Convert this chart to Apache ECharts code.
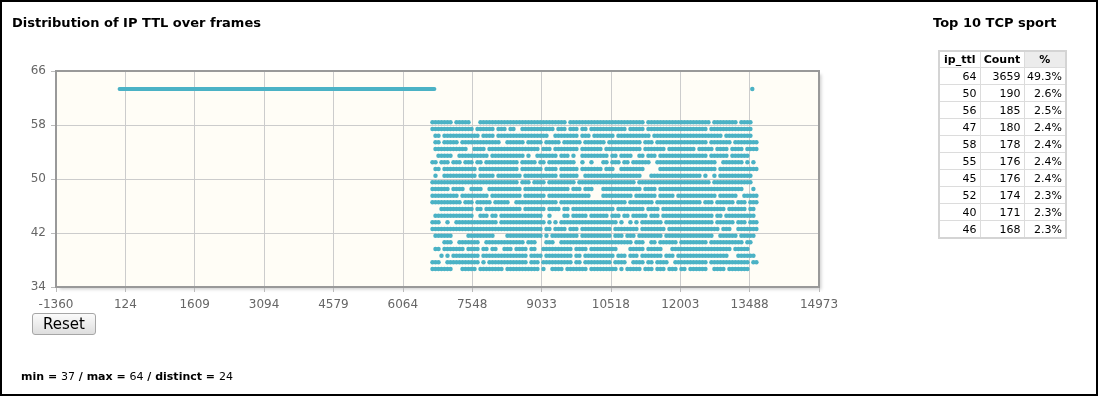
<!DOCTYPE html>
<html>
<head>
<meta charset="utf-8">
<script src="https://cdn.jsdelivr.net/npm/echarts@6/dist/echarts.min.js"></script>
<style>
  html, body { margin: 0; padding: 0; background: #fff; }
  body { width: 1098px; height: 396px; position: relative; overflow: hidden; font-family: "DejaVu Sans", sans-serif; }
  #chart { position: absolute; left: 0; top: 0; width: 1098px; height: 396px; }
  #frame { position: absolute; left: 0; top: 0; width: 1098px; height: 396px; box-sizing: border-box; border: 2px solid #000; pointer-events: none; }
  #tblTitle { position: absolute; left: 933px; top: 15px; font-size: 13px; line-height: 15px; font-weight: bold; color: #000; white-space: nowrap; }
  #topTable { position: absolute; left: 938px; top: 50px; border-collapse: collapse; table-layout: fixed; width: 127px; font-size: 11px; border: 2px solid #d4d4d4; }
  #topTable th, #topTable td { border: 1px solid #dcdcdc; padding: 0 3px 0 0; text-align: right; white-space: nowrap; overflow: hidden; color: #000; }
  #topTable th { height: 15px; font-weight: bold; text-align: center; padding: 0; background: #fff; }
  #topTable th.sorted { background: #ececec; }
  #topTable td { height: 16px; }
  #resetBtn { position: absolute; left: 32px; top: 313px; width: 64px; height: 22px; box-sizing: border-box; border: 1px solid #a6a6a6; border-radius: 3px; background: linear-gradient(#fbfbfb, #dedede); font-family: "DejaVu Sans", sans-serif; font-size: 15px; color: #000; padding: 0; line-height: 18px; }
  #stats { position: absolute; left: 21px; top: 370px; font-size: 11px; line-height: 13px; color: #000; white-space: nowrap; }
</style>
</head>
<body>
<div id="chart"></div>
<div id="tblTitle">Top 10 TCP sport</div>
<table id="topTable"></table>
<button id="resetBtn">Reset</button>
<div id="stats"><b>min = </b>37<b> / max = </b>64<b> / distinct = </b>24</div>
<div id="frame"></div>
<script>
// ---- tick labels ----
const xTickLabels = ['-1360', '124', '1609', '3094', '4579', '6064', '7548', '9033', '10518', '12003', '13488', '14973'];
const yTickLabels = ['34', '42', '50', '58', '66'];

// ---- data scale (frames / ttl) ----
const xDataMin = -1360.1;
const xDataMax = 14973.1;
const yDataMin = 34.3;
const yDataMax = 66.7;

// ---- TTL 64 frames ----
const ttl64Run = [1, 6740];       // continuous block of ttl=64 frames (start, end)
const ttl64Late = [13545];        // lone late ttl=64 frame

// ---- varied TTL frames: occupancy, one mask per ttl level ----
const maskStartFrame = 6571;
const maskBinFrames = 64.2;
const panelStartBin = [0, 30, 59, 88];
const ttlLevels = [59, 58, 57, 56, 55, 54, 53, 52, 51, 50, 49, 48, 47, 46, 45, 44, 43, 42, 41, 40, 39, 38, 37];
const ttlMasks = [
  ["..#######.#####...############", "#################.###########", "##############.##############", "#######.########.####......."],
  ["..##############.######.###.##", "..###########.###.###.##.####", "########.#####.##############", "######.##############......."],
  ["...##.############.####.######", "###########..########.###.###", "####.###########.############", "###########.#########......."],
  ["...##.#####.#############..###", "###.#####.#####.######.######", "#.###########.###.###########", "######.#######.########....."],
  ["...###########..####.#########", "########.###.########.#######", ".############.#######.#######", "##.#####.####.####.####....."],
  ["....#####..##########.########", "###.#..#######.###.#..#######", "##.##.####..##.###.##########", "######.######.######........"],
  ["..##.###.###.###.##.##########", "#.#####.##.#########..#..#...", "##.###.##.######..###########", "#########..#######.#.#......"],
  ["...##.###########.############", "#.#######.####.######.#######", ".###..########.....##########", "#########.#############....."],
  ["...#..###########.#####.######", "##.###########.######..######", "#############...#############", "####.#..#.###########......."],
  ["..############################", "#.###.####.#########.########", "###########.#################", "#######.#############......."],
  ["..######.####..####..#########", "##.###############.###.###...", "#############.####.##########", "##################...#......"],
  ["..#########.#########.########", "##.#######.##############....", "##########.#######.#####.####", "#########.######..#####....."],
  ["..##########.###.#####.#####..", "##############.##############", "########.########.###########", "####.###.######.###.###....."],
  [".....###########.##.##########", "##.#######.####.##.##########", "####.#########.####.#########", "############.######.##......"],
  ["...#############..###.##.#####", "#########..#....##.#####.####", "##.###.##.#####.###.#########", "########.##.##########......"],
  ["..###..#..##############.#####", "##########.#.#.##############", "#####.#..#.#.#######.########", "########.######.###.###....."],
  ["..############################", "#########.##.####.###.#######", "###.########.########.#######", "##########.###..#######....."],
  ["...######.....#########....###", "#########.#.#########.#######", "###.###.###.########.########", "########..######.#####......"],
  ["......###..#######..##########", "###.###...###..##############", "##########.###..##.######.###", "######.###########.##......."],
  ["...##.#######.####.##.##..###.", "####.##..##########.####.####", "#####....#####.#####...######", "##############.#####........"],
  [".....#.#.#########.###########", "####.####.#########.##.######", "####.###.###.#######.###.####", "#############...######......"],
  ["..###..###########.#.#########", "####.###.##########.##.######", "###.####..####.##.####..#####", "######.#############.##....."],
  ["..#######...#####.########.###", "########.#..####.#######.####", "#####.#.#####.###.###.###.##.", "######..####.#######........"]
];

// ---- top 10 table ----
const topTtl = [64, 50, 56, 47, 58, 55, 45, 52, 40, 46];
const topCount = [3659, 190, 185, 180, 178, 176, 176, 174, 171, 168];
const topPct = ['49.3%', '2.6%', '2.5%', '2.4%', '2.4%', '2.4%', '2.4%', '2.3%', '2.3%', '2.3%'];

// build table
(function () {
  const t = document.getElementById('topTable');
  let html = '<colgroup><col style="width:41px"><col style="width:44px"><col style="width:42px"></colgroup>';
  html += '<tr><th>ip_ttl</th><th>Count</th><th class="sorted">%</th></tr>';
  for (let i = 0; i < topTtl.length; i++) {
    html += '<tr><td>' + topTtl[i] + '</td><td>' + topCount[i] + '</td><td>' + topPct[i] + '</td></tr>';
  }
  t.innerHTML = html;
})();

// build scatter points from masks
const scatterData = [];
ttl64Late.forEach(f => scatterData.push([f, 64]));
ttlLevels.forEach((ttl, r) => {
  ttlMasks[r].forEach((seg, p) => {
    for (let j = 0; j < seg.length; j++) {
      if (seg[j] === '#') scatterData.push([maskStartFrame + (panelStartBin[p] + j) * maskBinFrames, ttl]);
    }
  });
});

const gridBox = { left: 56, top: 71, width: 763, height: 216 };
const seriesColor = '#4bb2c5';

const chart = echarts.init(document.getElementById('chart'), null, { renderer: 'canvas' });
chart.setOption({
  animation: false,
  textStyle: { fontFamily: 'DejaVu Sans' },
  title: {
    text: 'Distribution of IP TTL over frames',
    left: 12, top: 17, padding: 0,
    textStyle: { fontSize: 13, fontWeight: 'bold', color: '#000', fontFamily: 'DejaVu Sans' }
  },
  grid: {
    left: gridBox.left, top: gridBox.top, width: gridBox.width, height: gridBox.height,
    show: true, backgroundColor: '#fffdf6', borderWidth: 0,
    shadowColor: 'rgba(0,0,0,0.18)', shadowBlur: 3, shadowOffsetX: 2.5, shadowOffsetY: 2.5
  },
  xAxis: [
    {
      type: 'value', min: 0, max: xTickLabels.length - 1, interval: 1,
      axisLine: { show: false },
      axisTick: { show: true, length: 5, lineStyle: { color: '#bbb' } },
      axisLabel: { formatter: v => xTickLabels[Math.round(v)], color: '#666', fontSize: 12, margin: 12, showMinLabel: true, showMaxLabel: true, hideOverlap: false },
      splitLine: { show: true, lineStyle: { color: '#ccc', width: 1 } }
    },
    { type: 'value', min: xDataMin, max: xDataMax, show: false, splitLine: { show: false } }
  ],
  yAxis: [
    {
      type: 'value', min: 0, max: yTickLabels.length - 1, interval: 1,
      axisLine: { show: false },
      axisTick: { show: true, length: 5, lineStyle: { color: '#bbb' } },
      axisLabel: { formatter: v => yTickLabels[Math.round(v)], color: '#666', fontSize: 12, margin: 10, showMinLabel: true, showMaxLabel: true },
      splitLine: { show: true, lineStyle: { color: '#ccc', width: 1 } }
    },
    { type: 'value', min: yDataMin, max: yDataMax, show: false, splitLine: { show: false } }
  ],
  graphic: [{
    type: 'rect', silent: true, z: 100,
    shape: { x: gridBox.left, y: gridBox.top, width: gridBox.width, height: gridBox.height },
    style: { fill: 'none', stroke: '#999', lineWidth: 2 }
  }],
  series: [
    {
      type: 'line', xAxisIndex: 1, yAxisIndex: 1,
      data: ttl64Run.map(f => [f, 64]),
      symbol: 'none', silent: true,
      lineStyle: { color: seriesColor, width: 4, cap: 'round' }
    },
    {
      type: 'scatter', xAxisIndex: 1, yAxisIndex: 1,
      data: scatterData, symbolSize: 4.5, silent: true,
      itemStyle: { color: seriesColor, opacity: 1 }
    }
  ]
});
</script>
</body>
</html>
